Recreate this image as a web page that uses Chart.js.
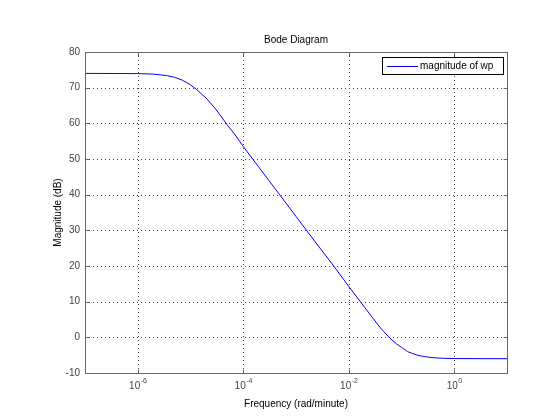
<!DOCTYPE html>
<html>
<head>
<meta charset="utf-8">
<script src="https://cdn.jsdelivr.net/npm/chart.js@4.4.1/dist/chart.umd.min.js"></script>
<style>
  html, body { margin: 0; padding: 0; background: #fff; }
  #wrap { width: 560px; height: 420px; }
</style>
</head>
<body>
<div id="wrap"><canvas id="bode"></canvas></div>
<script>
// Frequencies (rad/minute) and magnitude (dB)
const freq = [1e-7, 1e-6, 2e-6, 3.5e-6, 5e-6, 7e-6, 8.5e-6, 1e-5, 1.3e-5, 2e-5, 3e-5, 4e-5, 5e-5, 7e-5,
  1e-4, 2e-4, 5e-4, 1e-3, 2e-3, 5e-3, 1e-2, 2e-2, 4e-2, 6e-2, 8e-2,
  1e-1, 1.3e-1, 1.6e-1, 2e-1, 2.5e-1, 3e-1, 4e-1, 5e-1, 7e-1, 1, 10];
const mag = [74, 73.95, 73.8, 73.4, 72.9, 72.1, 71.4, 70.8, 69.5, 67.0, 64.0, 61.5, 59.5, 56.8,
  53.5, 47.6, 39.8, 33.9, 28.0, 20.3, 14.3, 8.4, 2.6, -0.2, -1.8,
  -2.8, -4.0, -4.5, -5.0, -5.3, -5.5, -5.7, -5.8, -5.9, -5.95, -6.0];

const xTicks = [1e-6, 1e-4, 1e-2, 1];
const xTickExp = ['-6', '-4', '-2', '0'];
const yTicks = [-10, 0, 10, 20, 30, 40, 50, 60, 70, 80];

const FONT = '"Liberation Sans", Arial, sans-serif';

// grid, frame, inward ticks, labels, legend drawn MATLAB-style
const bodeDecor = {
  id: 'bodeDecor',
  beforeDatasetsDraw(chart) {
    const { ctx, chartArea: a, scales: { x, y } } = chart;
    ctx.save();
    ctx.strokeStyle = '#444';
    ctx.lineWidth = 1;
    ctx.setLineDash([1, 3]);
    xTicks.forEach(v => {
      const px = Math.round(x.getPixelForValue(v)) + 0.5;
      ctx.beginPath(); ctx.moveTo(px, a.top); ctx.lineTo(px, a.bottom); ctx.stroke();
    });
    yTicks.forEach(v => {
      const py = Math.round(y.getPixelForValue(v)) + 0.5;
      ctx.beginPath(); ctx.moveTo(a.left, py); ctx.lineTo(a.right, py); ctx.stroke();
    });
    ctx.restore();
  },
  afterDraw(chart) {
    const { ctx, chartArea: a, scales: { x, y } } = chart;
    ctx.save();
    // frame
    ctx.strokeStyle = '#666';
    ctx.lineWidth = 1;
    const L = Math.round(a.left) + 0.5, R = Math.round(a.right) + 0.5;
    const T = Math.round(a.top) + 0.5, B = Math.round(a.bottom) + 0.5;
    ctx.strokeRect(L, T, R - L, B - T);
    // inward ticks
    ctx.beginPath();
    xTicks.forEach(v => {
      const px = Math.round(x.getPixelForValue(v)) + 0.5;
      ctx.moveTo(px, B); ctx.lineTo(px, B - 4);
      ctx.moveTo(px, T); ctx.lineTo(px, T + 4);
    });
    yTicks.forEach(v => {
      const py = Math.round(y.getPixelForValue(v)) + 0.5;
      ctx.moveTo(L, py); ctx.lineTo(L + 4, py);
      ctx.moveTo(R, py); ctx.lineTo(R - 4, py);
    });
    ctx.stroke();

    // x tick labels with superscript exponents
    ctx.fillStyle = '#444';
    ctx.textBaseline = 'alphabetic';
    xTicks.forEach((v, i) => {
      const px = x.getPixelForValue(v);
      ctx.font = '10px ' + FONT;
      const wb = ctx.measureText('10').width;
      ctx.font = '7px ' + FONT;
      const we = ctx.measureText(xTickExp[i]).width;
      const x0 = px - (wb + we) / 2;
      ctx.font = '10px ' + FONT;
      ctx.textAlign = 'left';
      ctx.fillText('10', x0, 389);
      ctx.font = '7px ' + FONT;
      ctx.fillText(xTickExp[i], x0 + wb + 0.5, 383);
    });

    // title and axis titles
    ctx.fillStyle = '#000';
    ctx.font = '10px ' + FONT;
    ctx.textAlign = 'center';
    ctx.textBaseline = 'middle';
    ctx.fillText('Bode Diagram', (a.left + a.right) / 2, 40);
    ctx.fillText('Frequency (rad/minute)', (a.left + a.right) / 2, 404);
    ctx.save();
    ctx.translate(58, (a.top + a.bottom) / 2);
    ctx.rotate(-Math.PI / 2);
    ctx.fillText('Magnitude (dB)', 0, 0);
    ctx.restore();

    // legend box inside the plot, top right
    const ds = chart.data.datasets[0];
    ctx.fillStyle = '#fff';
    ctx.fillRect(382, 57, 122, 18);
    ctx.strokeStyle = '#000';
    ctx.strokeRect(382.5, 57.5, 121, 17);
    ctx.strokeStyle = ds.borderColor;
    ctx.beginPath(); ctx.moveTo(387, 66.5); ctx.lineTo(418, 66.5); ctx.stroke();
    ctx.fillStyle = '#000';
    ctx.textAlign = 'left';
    ctx.fillText(ds.label, 420, 66);
    ctx.restore();
  }
};

new Chart(document.getElementById('bode'), {
  type: 'line',
  data: {
    datasets: [{
      label: 'magnitude of wp',
      data: freq.map((f, i) => ({ x: f, y: mag[i] })),
      borderColor: '#0000ff',
      borderWidth: 1,
      pointRadius: 0,
      tension: 0,
      fill: false
    }]
  },
  options: {
    responsive: true,
    maintainAspectRatio: false,
    animation: false,
    layout: { padding: { left: 0, top: 52, right: 53, bottom: 0 } },
    plugins: {
      legend: { display: false },
      tooltip: { enabled: false }
    },
    scales: {
      x: {
        type: 'logarithmic',
        min: 1e-7,
        max: 10,
        afterBuildTicks: s => { s.ticks = xTicks.map(v => ({ value: v })); },
        afterFit: s => { s.height = 47; },
        grid: { display: false, drawTicks: false },
        border: { display: false },
        ticks: { display: false }
      },
      y: {
        min: -10,
        max: 80,
        afterBuildTicks: s => { s.ticks = yTicks.map(v => ({ value: v })); },
        afterFit: s => { s.width = 85; },
        grid: { display: false, drawTicks: false },
        border: { display: false },
        ticks: {
          padding: 5,
          color: '#444',
          font: { family: FONT, size: 10 }
        }
      }
    }
  },
  plugins: [bodeDecor]
});
</script>
</body>
</html>
